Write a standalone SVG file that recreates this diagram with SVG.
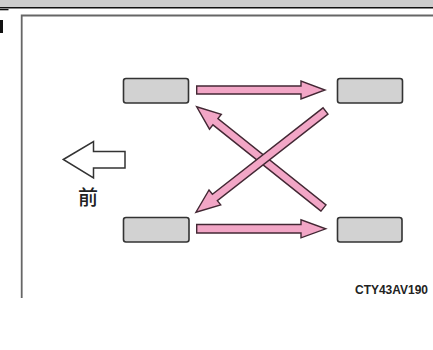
<svg xmlns="http://www.w3.org/2000/svg" width="433" height="350" viewBox="0 0 433 350">
<style>
.box{fill:#d2d2d2;stroke:#333;stroke-width:1.6}
.arr{fill:#f2a6c6;stroke:#432834;stroke-width:1.4;stroke-linejoin:miter}
.frame{fill:none;stroke:#666;stroke-width:1.8}
.lbl{font-family:"Liberation Sans",Arial,sans-serif;font-weight:bold;font-size:13px;fill:#222}
.cjk{font-family:"Noto Sans CJK SC","Noto Sans CJK JP",sans-serif;font-size:20px;font-weight:500;fill:#222}
</style>
<rect width="433" height="350" fill="#fff"/>
<g id="header">
<rect x="0" y="0" width="433" height="7" fill="#cccccc"/>
<rect x="0" y="7" width="433" height="1.5" fill="#111"/>
<rect x="0" y="9" width="8.5" height="1.3" fill="#111"/>
<rect x="0" y="20" width="3" height="13" fill="#111"/>
</g>
<path class="frame" d="M21.7,298 V15.5 H440"/>
<g id="front-indicator">
<polygon points="63.3,159.5 93.5,141.5 93.5,151.5 125,151.5 125,168 93.5,168 93.5,178" fill="#fff" stroke="#333" stroke-width="1.5"/>
<text class="cjk" x="88" y="205" text-anchor="middle">前</text>
</g>
<g id="connectors">
<polygon class="arr" points="196.7,86 301,86 301,81 325,90 301,99 301,94 196.7,94"/>
<polygon class="arr" points="196.7,224.5 301,224.5 301,219.8 325.7,228.8 301,237.8 301,233 196.7,233"/>
<polygon class="arr" transform="translate(323.5,208) rotate(218.6)" points="0,-4 138.3,-4 138.3,-9.5 162.3,0 138.3,9.5 138.3,4 0,4"/>
<polygon class="arr" transform="translate(325.5,111) rotate(142)" points="0,-4 140.4,-4 140.4,-9.5 164.4,0 140.4,9.5 140.4,4 0,4"/>
</g>
<g id="tire-front-left"><rect class="box" x="123.5" y="78.5" width="65" height="24.5" rx="2.5"/></g>
<g id="tire-front-right"><rect class="box" x="337.5" y="78.5" width="65" height="24.5" rx="2.5"/></g>
<g id="tire-rear-left"><rect class="box" x="123.5" y="217.5" width="65.5" height="24.5" rx="2.5"/></g>
<g id="tire-rear-right"><rect class="box" x="337.5" y="217.5" width="64.5" height="24.5" rx="2.5"/></g>
<text class="lbl" x="355" y="293.5" textLength="73" lengthAdjust="spacingAndGlyphs">CTY43AV190</text>
</svg>
